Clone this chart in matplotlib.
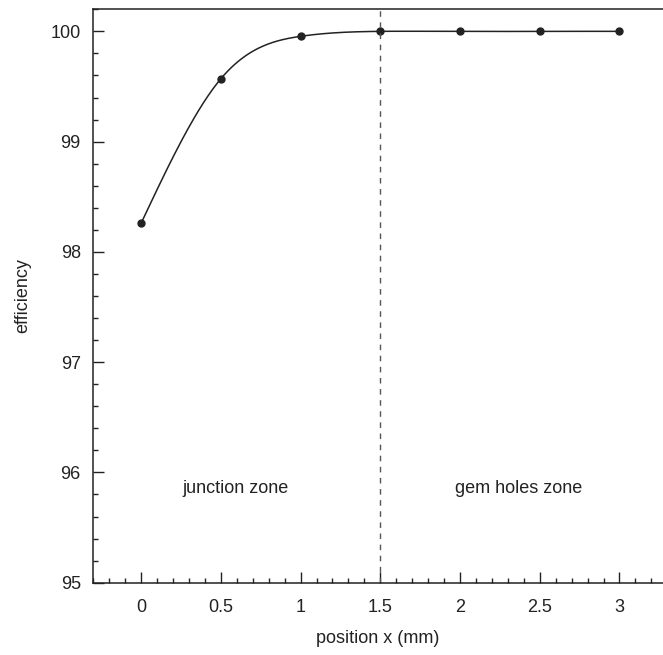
import numpy as np
import matplotlib.pyplot as plt
from matplotlib.ticker import MultipleLocator

# measured points
position = [0.0, 0.5, 1.0, 1.5, 2.0, 2.5, 3.0]
efficiency = [98.26, 99.57, 99.955, 100.0, 99.999, 100.0, 100.0]

zone_labels = ["junction zone", "gem holes zone"]
zone_label_x = [0.59, 2.37]
zone_label_y = 95.85
boundary_x = 1.5


def natural_spline(x, y, xs):
    """Natural cubic spline through (x, y), evaluated at xs."""
    x = np.asarray(x, float)
    y = np.asarray(y, float)
    n = len(x)
    h = np.diff(x)
    A = np.zeros((n, n))
    b = np.zeros(n)
    A[0, 0] = A[-1, -1] = 1
    for i in range(1, n - 1):
        A[i, i - 1] = h[i - 1]
        A[i, i] = 2 * (h[i - 1] + h[i])
        A[i, i + 1] = h[i]
        b[i] = 6 * ((y[i + 1] - y[i]) / h[i] - (y[i] - y[i - 1]) / h[i - 1])
    M = np.linalg.solve(A, b)
    idx = np.clip(np.searchsorted(x, xs) - 1, 0, n - 2)
    x0, x1 = x[idx], x[idx + 1]
    hi = h[idx]
    return (M[idx] * (x1 - xs)**3 / (6 * hi) + M[idx + 1] * (xs - x0)**3 / (6 * hi)
            + (y[idx] / hi - M[idx] * hi / 6) * (x1 - xs)
            + (y[idx + 1] / hi - M[idx + 1] * hi / 6) * (xs - x0))


plt.rcParams['font.family'] = ['Liberation Sans', 'DejaVu Sans']
ink = '#222222'
fs = 13

fig = plt.figure(figsize=(6.63, 6.55), dpi=100)
ax = fig.add_axes([0.1407, 0.1104, 0.8593, 0.8754])

xs = np.linspace(position[0], position[-1], 400)
ax.plot(xs, natural_spline(position, efficiency, xs), color=ink, lw=1.1)
ax.plot(position, efficiency, 'o', color=ink, ms=5)

ax.axvline(boundary_x, color='#555555', lw=1.0, ls=(0, (4, 4)))

for lbl, xl in zip(zone_labels, zone_label_x):
    ax.text(xl, zone_label_y, lbl, ha='center', va='center', fontsize=fs, color=ink)

ax.set_xlim(-0.3, 3.273)
ax.set_ylim(95, 100.2)
ax.xaxis.set_minor_locator(MultipleLocator(0.1))
ax.yaxis.set_major_locator(MultipleLocator(1))
ax.yaxis.set_minor_locator(MultipleLocator(0.2))
ax.set_xticks([0, 0.5, 1, 1.5, 2, 2.5, 3])
ax.set_xticklabels(['0', '0.5', '1', '1.5', '2', '2.5', '3'])

ax.tick_params(which='both', direction='in', top=False, right=False,
               color=ink, labelsize=fs, labelcolor=ink, width=1)
ax.tick_params(which='major', length=8)
ax.tick_params(axis='x', which='major', pad=12)
ax.tick_params(axis='y', which='major', pad=9)
ax.tick_params(which='minor', length=3.5)

ax.spines['right'].set_visible(False)
for s in ['left', 'bottom', 'top']:
    ax.spines[s].set_color(ink)
    ax.spines[s].set_linewidth(1.1)

ax.set_xlabel('position x (mm)', fontsize=fs, color=ink, labelpad=10)
ax.set_ylabel('efficiency', fontsize=fs, color=ink, labelpad=14)

fig.savefig('out.png', dpi=100)
